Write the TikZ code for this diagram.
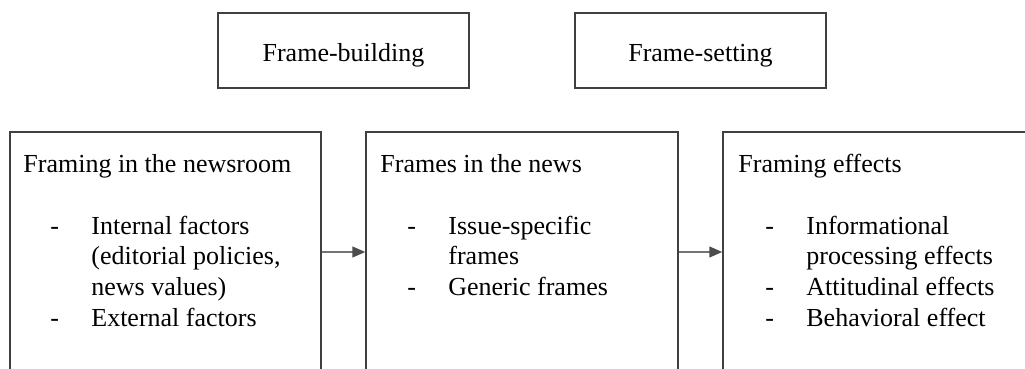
\documentclass[tikz,border=0pt]{standalone}
\usepackage{fontspec}
\setmainfont{Liberation Serif}
\usetikzlibrary{arrows.meta}
\begin{document}
\begin{tikzpicture}[x=0.5pt,y=-0.5pt,
  box/.style={draw=black!75, line width=0.75pt, inner sep=0pt, fill=none},
  txt/.style={inner sep=0pt, align=left, font=\fontsize{13}{15.5}\selectfont},
  lbl/.style={inner sep=0pt, font=\fontsize{13}{15.5}\selectfont},
  arr/.style={draw=black!55, line width=0.75pt, -{Triangle[length=6.5pt,width=5.5pt,fill=black!70,color=black!70]}}
]
\clip (0,0) rectangle (1025,369);
\fill[white] (0,0) rectangle (1025,369);
% top boxes
\node[box, minimum width=125.5pt, minimum height=37.5pt] (fb) at (343.5,50.5) {};
\node[lbl, anchor=base] (fbl) at (343.5,62) {Frame-building};
\node[box, minimum width=125.5pt, minimum height=37.5pt] (fs) at (700.5,50.5) {};
\node[lbl, anchor=base] (fsl) at (700.5,62) {Frame-setting};
% bottom boxes (extend below the picture edge)
\node[box, minimum width=155.5pt, minimum height=134pt] (b1) at (165.5,266) {};
\node[box, minimum width=156pt, minimum height=134pt] (b2) at (522,266) {};
\node[box, minimum width=158.5pt, minimum height=134pt] (b3) at (881.5,266) {};
% texts (anchored at the baseline of the last line)
\newcommand{\itm}[1]{\makebox[34pt][l]{\hspace*{13.5pt}-}#1}
\newcommand{\cnt}[1]{\hspace*{34pt}#1}
\node[txt, anchor=base west] (t1) at (23,327) {Framing in the newsroom\\[15.5pt]
\itm{Internal factors}\\
\cnt{(editorial policies,}\\
\cnt{news values)}\\
\itm{External factors}};
\node[txt, anchor=base west] (t2) at (380,296) {Frames in the news\\[15.5pt]
\itm{Issue-specific}\\
\cnt{frames}\\
\itm{Generic frames}};
\node[txt, anchor=base west] (t3) at (738,327) {Framing effects\\[15.5pt]
\itm{Informational}\\
\cnt{processing effects}\\
\itm{Attitudinal effects}\\
\itm{Behavioral effect}};
% arrows
\draw[arr] ([yshift=7pt]b1.east) -- ([yshift=7pt]b2.west);
\draw[arr] ([yshift=7pt]b2.east) -- ([yshift=7pt]b3.west);
\end{tikzpicture}
\end{document}
